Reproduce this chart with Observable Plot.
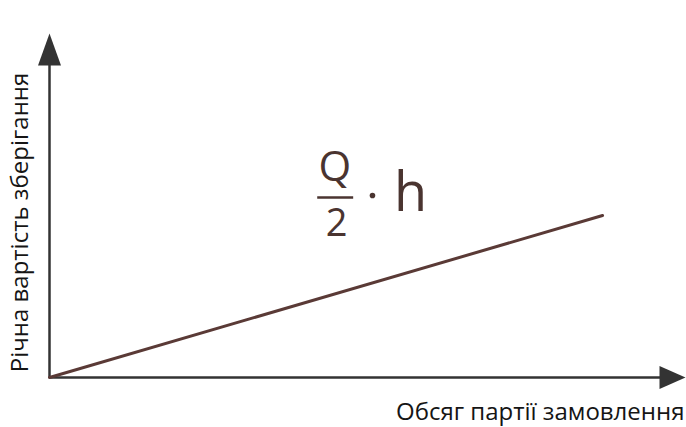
<!DOCTYPE html>
<html>
<head>
<meta charset="utf-8">
<script src="https://cdn.jsdelivr.net/npm/d3@7"></script>
<script src="https://cdn.jsdelivr.net/npm/@observablehq/plot@0.6"></script>
<style>
  html, body { margin: 0; padding: 0; background: #fff; }
  #chart svg { display: block; }
</style>
</head>
<body>
<div id="chart"></div>
<script>
// Order quantity Q and the annual holding cost (Q/2)·h it produces
const orderQty = [0, 100];
const holdingCost = [0, 50];

// Axis titles
const xTitle = "Обсяг партії замовлення";
const yTitle = "Річна вартість зберігання";

const xMax = 115;
const yMax = 106.2;

const axisColor = "#333333";
const lineColor = "#5a3a36";
const formulaColor = "#4a3430";

const series = orderQty.map((q, i) => ({q, cost: holdingCost[i]}));

// Filled arrowheads drawn as custom symbols, tip at the dot position
const arrowUp = {draw(ctx) { ctx.moveTo(0, 0); ctx.lineTo(11.5, 32); ctx.lineTo(-11.5, 32); ctx.closePath(); }};
const arrowRight = {draw(ctx) { ctx.moveTo(0, 0); ctx.lineTo(-26, -11.5); ctx.lineTo(-26, 11.5); ctx.closePath(); }};

const chart = Plot.plot({
  width: 686,
  height: 427,
  marginLeft: 49,
  marginRight: 1,
  marginTop: 33,
  marginBottom: 50,
  x: {domain: [0, xMax], axis: null},
  y: {domain: [0, yMax], axis: null},
  style: {fontFamily: "'Open Sans', sans-serif", background: "#fff"},
  marks: [
    // axes
    Plot.ruleY([0], {x1: 0, x2: xMax - 2, stroke: axisColor, strokeWidth: 2.5}),
    Plot.ruleX([0], {y1: 0, y2: yMax - 3, stroke: axisColor, strokeWidth: 2.5}),
    Plot.dot([{q: 0, cost: yMax}], {x: "q", y: "cost", symbol: arrowUp, fill: axisColor, stroke: null}),
    Plot.dot([{q: xMax, cost: 0}], {x: "q", y: "cost", symbol: arrowRight, fill: axisColor, stroke: null}),
    // holding cost line
    Plot.line(series, {x: "q", y: "cost", stroke: lineColor, strokeWidth: 3}),
    // formula (Q/2)·h
    Plot.text(["Q"], {x: 51.6, y: 64.8, fontSize: 42, fill: formulaColor, lineAnchor: "middle"}),
    Plot.ruleY([55.6], {x1: 48.5, x2: 55.0, stroke: formulaColor, strokeWidth: 2.5}),
    Plot.text(["2"], {x: 51.9, y: 47.5, fontSize: 38, fill: formulaColor, lineAnchor: "middle"}),
    Plot.dot([{q: 58.4, cost: 56.2}], {x: "q", y: "cost", r: 2.8, fill: formulaColor, stroke: null}),
    Plot.text(["h"], {x: 65.3, y: 56.8, fontSize: 54, fill: formulaColor, lineAnchor: "middle"}),
    // axis titles
    Plot.text([yTitle], {frameAnchor: "left", rotate: -90, textAnchor: "middle", lineAnchor: "middle", dx: -29, dy: 17, fontSize: 24, fill: "#151515"}),
    Plot.text([xTitle], {frameAnchor: "bottom-right", textAnchor: "end", lineAnchor: "middle", dx: -1, dy: 35, fontSize: 24, fill: "#151515"})
  ]
});

document.getElementById("chart").append(chart);
</script>
</body>
</html>
